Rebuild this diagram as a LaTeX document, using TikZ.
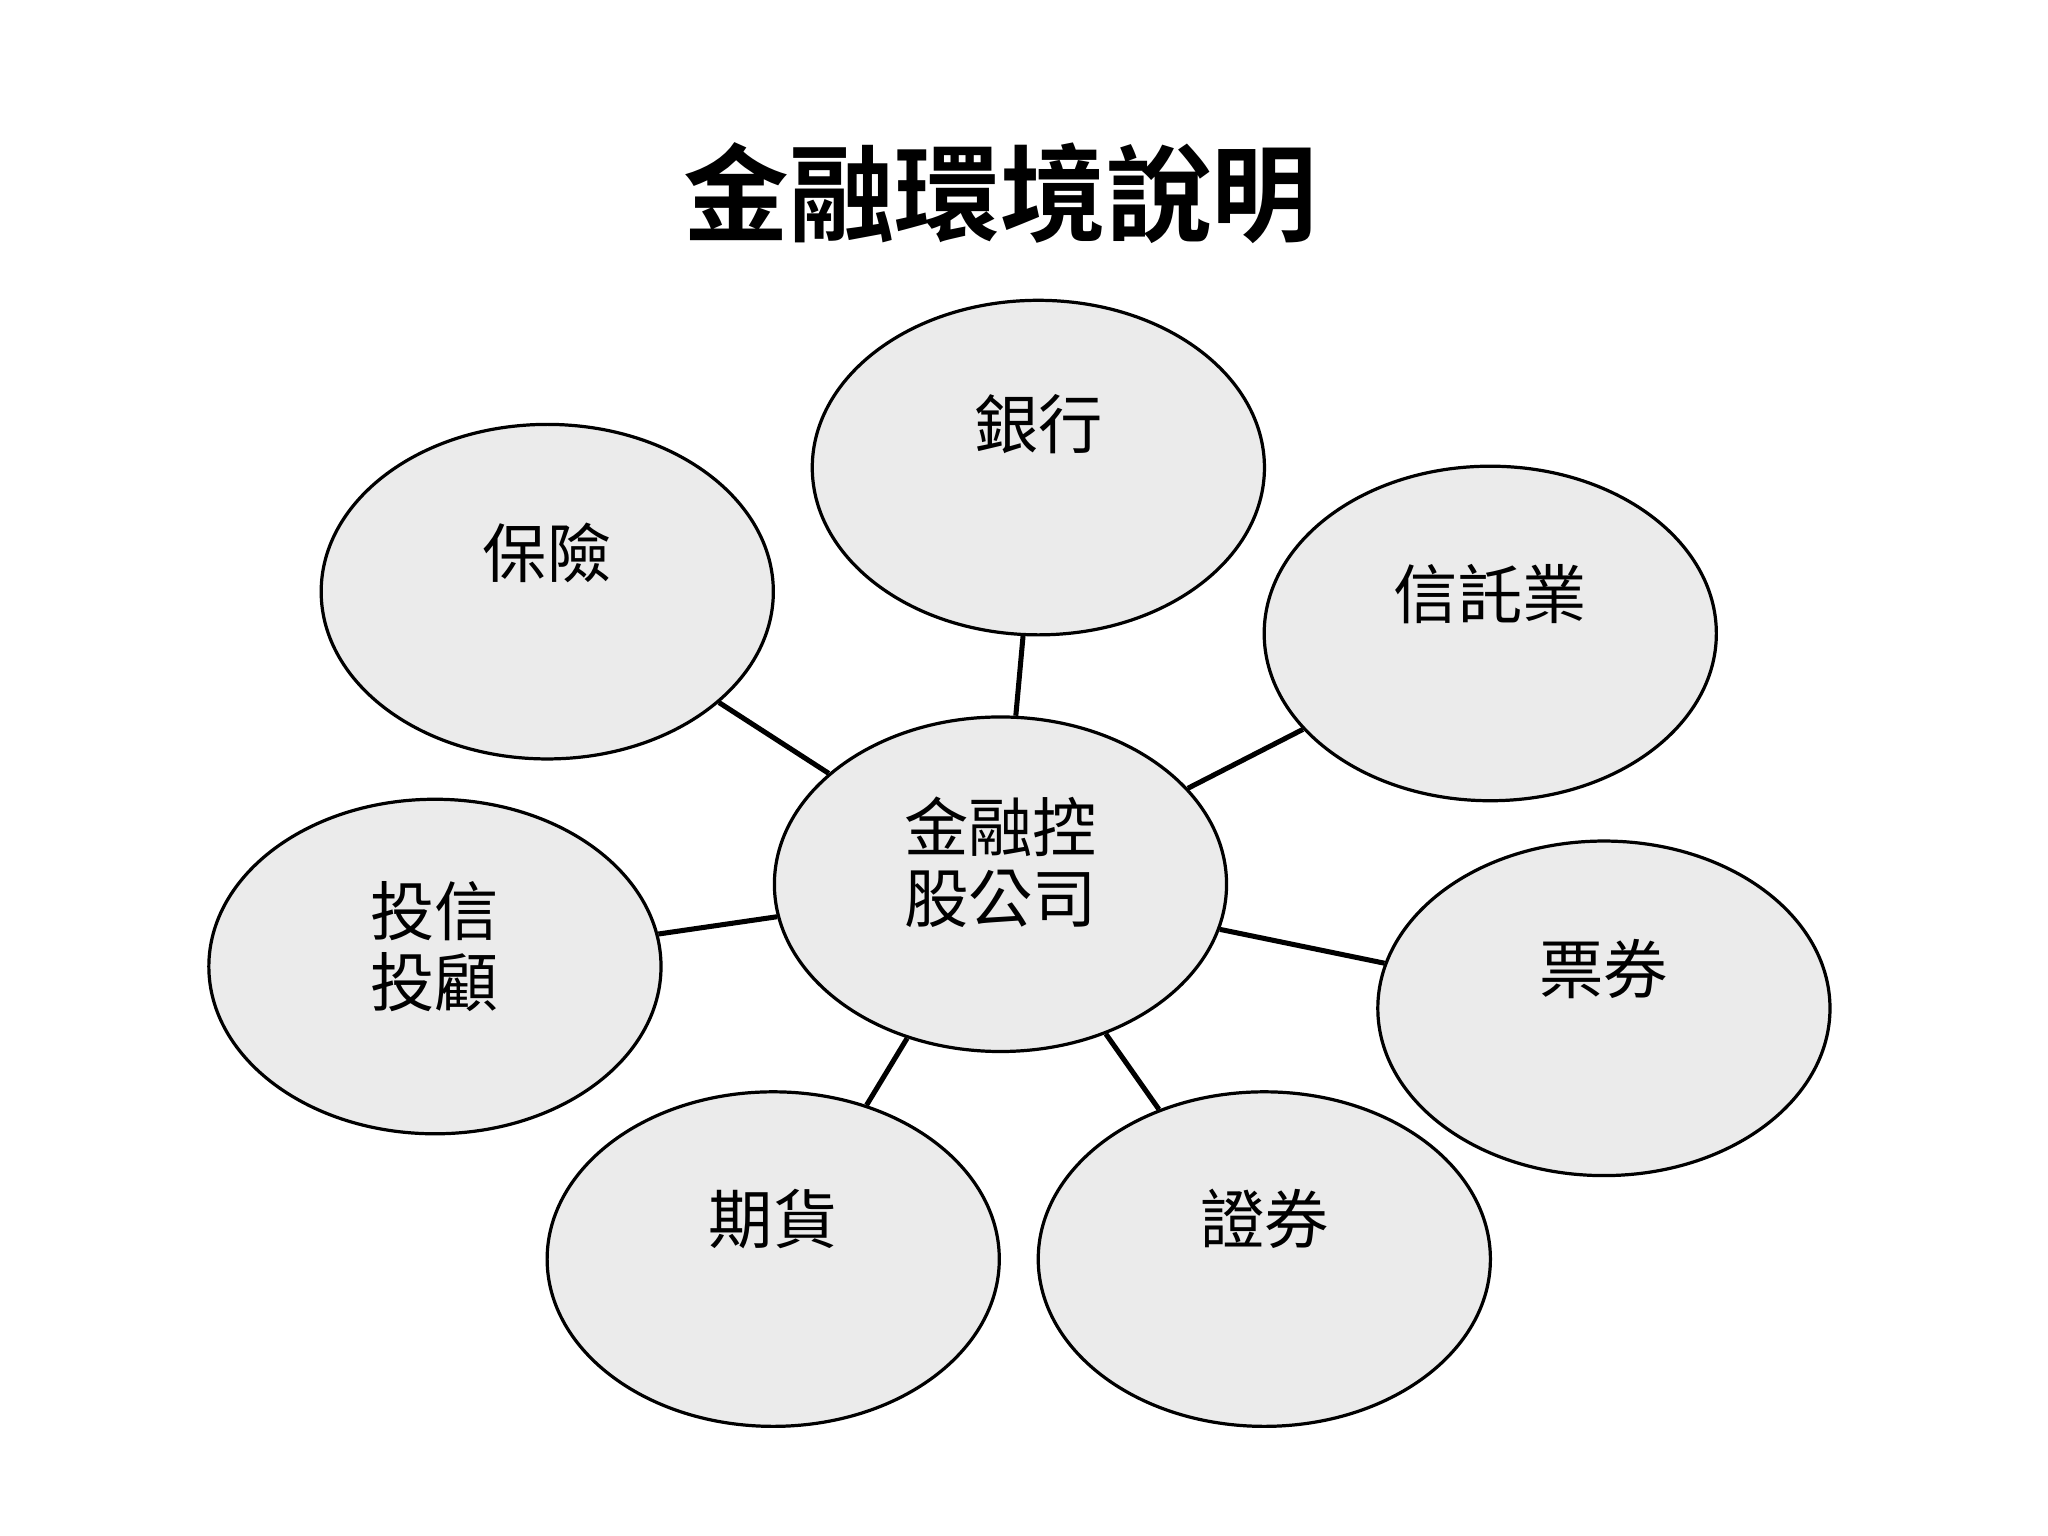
\documentclass[tikz,border=0pt]{standalone}
\usepackage{fontspec}
\newfontfamily\cjk{Noto Sans CJK TC}
\newfontfamily\cjkb{Noto Sans CJK TC Bold}
\usetikzlibrary{shapes.geometric}
\begin{document}
\begin{tikzpicture}[x=0.01cm,y=-0.01cm,
  bub/.style={ellipse,draw,fill=black!8,line width=0.7pt,minimum width=3.46cm,minimum height=2.56cm,inner sep=0pt},
  lab/.style={font=\cjk\fontsize{14}{15.5}\selectfont,align=center},
  con/.style={line width=1.1pt}]
\useasboundingbox (0,0) rectangle (1568,1176);
\node[font=\cjkb\fontsize{23}{26}\selectfont] (title) at (766,148) {金融環境說明};
\node[bub] (c) at (766,677) {};
\node[bub] (b1) at (795,358) {};
\node[bub] (b2) at (419,453) {};
\node[bub] (b3) at (1141,485) {};
\node[bub] (b4) at (333,740) {};
\node[bub] (b5) at (1228,772) {};
\node[bub] (b6) at (592,964) {};
\node[bub] (b7) at (968,964) {};
\node[lab] (tc) at (766,660) {金融控\\股公司};
\node[lab] (t1) at (795,325) {銀行};
\node[lab] (t2) at (419,423) {保險};
\node[lab] (t3) at (1141,455) {信託業};
\node[lab] (t4) at (333,725) {投信\\投顧};
\node[lab] (t5) at (1228,742) {票券};
\node[lab] (t6) at (592,933) {期貨};
\node[lab] (t7) at (968,933) {證券};
\foreach \b in {b1,b2,b3,b4,b5,b6,b7} \draw[con] (c) -- (\b);
\end{tikzpicture}
\end{document}
